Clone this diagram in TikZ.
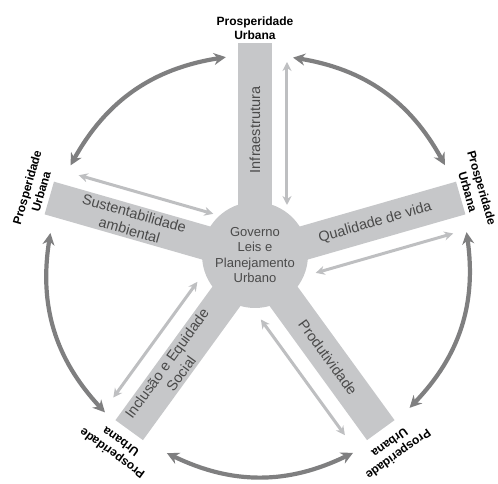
\documentclass[tikz,border=0pt]{standalone}
\usepackage{fontspec}
\setmainfont{Liberation Sans}
\usetikzlibrary{arrows.meta, calc}
\definecolor{PUbar}{HTML}{C6C7C9}
\definecolor{PUinner}{HTML}{BEBFC1}
\definecolor{PUouter}{HTML}{7F7F80}
\definecolor{PUtext}{HTML}{4A4A4A}
\tikzstyle{hub} = [circle, minimum size=106pt, inner sep=0pt, fill=PUbar, text=PUtext, align=center, font=\fontsize{13}{15.6}\selectfont]
\tikzstyle{bar} = [rectangle, minimum width=214pt, minimum height=34pt, inner sep=0pt, fill=PUbar]
\tikzstyle{bartext} = [text=PUtext, align=center, inner sep=0pt, font=\fontsize{14.5}{17.5}\selectfont]
\tikzstyle{goal} = [align=center, inner sep=0pt, font=\bfseries\fontsize{12}{14.5}\selectfont]
\tikzstyle{inner} = [line width=3pt, draw=PUinner, {Stealth[length=9pt,width=9pt]}-{Stealth[length=9pt,width=9pt]}]
\tikzstyle{outer} = [line width=4.2pt, draw=PUouter, {Stealth[length=12pt,width=12pt]}-{Stealth[length=12pt,width=12pt]}]

\begin{document}
\begin{tikzpicture}[x=1pt, y=1pt]

\useasboundingbox (-255,-227) rectangle (243,257);

\node (b1) [bar, rotate=90] at (90:107) {};
\node (b2) [bar, rotate=16] at (16:107) {};
\node (b3) [bar, rotate=-54] at (-54:107) {};
\node (b4) [bar, rotate=-126] at (-126:107) {};
\node (b5) [bar, rotate=164] at (164:107) {};

\node (gov) [hub] at (0,2) {Governo\\Leis e\\Planejamento\\Urbano};

\node (t1) [bartext, rotate=90] at (90:127) {Infraestrutura};
\node (t2) [bartext, rotate=16] at (16:125) {Qualidade de vida};
\node (t3) [bartext, rotate=-54] at (-54:124) {Produtividade};
\node (t4) [bartext, rotate=54] at (-126:138) {Inclusão e Equidade\\Social};
\node (t5) [bartext, rotate=-16] at (164:128) {Sustentabilidade\\ambiental};

\node (p1) [goal] at (90:229) {Prosperidade\\Urbana};
\node (p2) [goal, rotate=-74] at (17:230) {Prosperidade\\Urbana};
\node (p3) [goal, rotate=-144] at (-54:237) {Prosperidade\\Urbana};
\node (p4) [goal, rotate=144] at (-126:236) {Prosperidade\\Urbana};
\node (p5) [goal, rotate=74] at (163:231) {Prosperidade\\Urbana};

% setas internas
\coordinate (i1a) at ($(90:52)+(0:32)$);
\coordinate (i1b) at ($(90:195)+(0:32)$);
\coordinate (i2a) at ($(16:54)+(-74:32)$);
\coordinate (i2b) at ($(16:197)+(-74:32)$);
\coordinate (i3a) at ($(-54:54)+(-144:32)$);
\coordinate (i3b) at ($(-54:197)+(-144:32)$);
\coordinate (i4a) at ($(-126:54)+(144:32)$);
\coordinate (i4b) at ($(-126:197)+(144:32)$);
\coordinate (i5a) at ($(164:52)+(74:30)$);
\coordinate (i5b) at ($(164:192)+(74:30)$);

\draw [inner] (i1a) -- (i1b);
\draw [inner] (i2a) -- (i2b);
\draw [inner] (i3a) -- (i3b);
\draw [inner] (i4a) -- (i4b);
\draw [inner] (i5a) -- (i5b);

% setas externas
\coordinate (o1a) at (153.6:206);
\coordinate (o1b) at (98.3:202);
\coordinate (o2a) at (79.2:203);
\coordinate (o2b) at (25.8:211);
\coordinate (o3a) at (6.7:213);
\coordinate (o3b) at (-44.3:216);
\coordinate (o4a) at (-63.4:219);
\coordinate (o4b) at (-114.2:215);
\coordinate (o5a) at (-134:216);
\coordinate (o5b) at (173.3:206);

\draw [outer] (o1a) to[bend left=26] (o1b);
\draw [outer] (o2a) to[bend left=26] (o2b);
\draw [outer] (o3a) to[bend left=26] (o3b);
\draw [outer] (o4a) to[bend left=26] (o4b);
\draw [outer] (o5a) to[bend left=26] (o5b);

\end{tikzpicture}
\end{document}
